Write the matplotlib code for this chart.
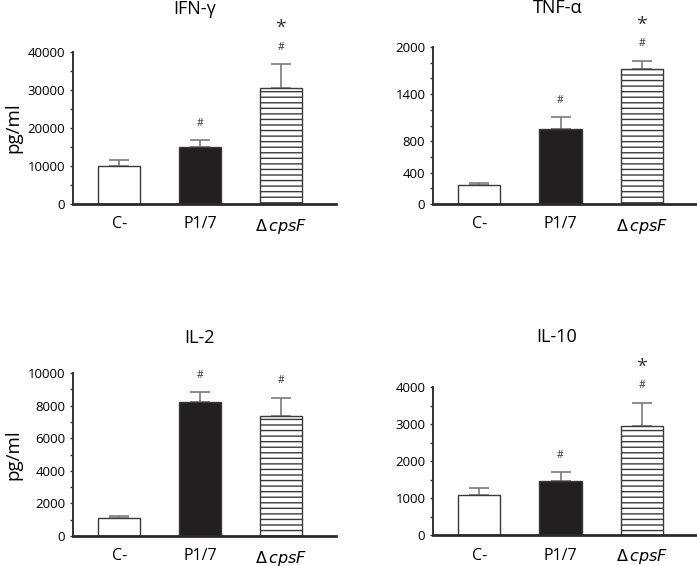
import matplotlib
matplotlib.use('Agg')
import matplotlib.pyplot as plt
from matplotlib.ticker import MultipleLocator, FixedLocator

plt.rcParams['font.family'] = ['Open Sans', 'DejaVu Sans']
plt.rcParams['hatch.linewidth'] = 1.0
plt.rcParams['hatch.color'] = '#222222'

groups = ['C-', 'P1/7', r'$\Delta\,$' + r'$\it{cpsF}$']

# values (mean, upper error)
ifn_mean = [10000, 15000, 30500]
ifn_err = [1600, 1800, 6300]
tnf_mean = [242, 955, 1720]
tnf_err = [26, 153, 102]
il2_mean = [1100, 8220, 7360]
il2_err = [130, 610, 1110]
il10_mean = [1080, 1460, 2950]
il10_err = [190, 240, 620]

# significance marks: (bar index, label)
ifn_marks = [(1, '#'), (2, '#*')]
tnf_marks = [(1, '#'), (2, '#*')]
il2_marks = [(1, '#'), (2, '#')]
il10_marks = [(1, '#'), (2, '#*')]

W, H = 697, 566
fig = plt.figure(figsize=(W / 100, H / 100), dpi=100)


def make_ax(left, right, bottom, top):
    return fig.add_axes([left / W, 1 - bottom / H, (right - left) / W, (bottom - top) / H])


def draw_panel(ax, title, means, errs, ymax, major, minor, marks, title_xy,
               ylabel=None, labels_at=None):
    x = [0, 1, 2]
    faces = ['white', '#231f20', 'white']
    hatches = [None, None, '---']
    for xi, m, fc, h in zip(x, means, faces, hatches):
        ax.bar(xi, m, width=0.52, color=fc, edgecolor='#3a3a3a', linewidth=1.0,
               hatch=h, zorder=2)
    ax.errorbar(x, means, yerr=[[0, 0, 0], errs], fmt='none', ecolor='#7a7a7a',
                elinewidth=1.2, capsize=7, capthick=1.2, zorder=1)
    ax.set_xlim(-0.57, 2.68)
    ax.set_ylim(0, ymax)
    ax.set_xticks(x)
    ax.set_xticklabels(groups, fontsize=11.5)
    ax.tick_params(axis='x', length=0, pad=9)
    ax.yaxis.set_minor_locator(MultipleLocator(minor))
    if labels_at is not None:
        ax.yaxis.set_major_locator(FixedLocator(labels_at))
    else:
        ax.yaxis.set_major_locator(MultipleLocator(major))
    ax.tick_params(axis='y', which='both', direction='out', length=2.5, width=1,
                   labelsize=9.5, pad=3, color='#333333')
    for s in ['top', 'right']:
        ax.spines[s].set_visible(False)
    ax.spines['left'].set_linewidth(1.4)
    ax.spines['left'].set_color('#333333')
    ax.spines['bottom'].set_linewidth(2.0)
    ax.spines['bottom'].set_color('#2a2a2a')
    fig.text(title_xy[0] / W, 1 - title_xy[1] / H, title, fontsize=13,
             ha='center', va='center')
    if ylabel:
        ax.set_ylabel(ylabel, fontsize=13.5, labelpad=4)
    for i, lab in marks:
        top = means[i] + errs[i]
        ax.annotate('#', xy=(i, top), xytext=(0, 17), textcoords='offset pixels',
                    ha='center', va='center', fontsize=7.5, color='#333333',
                    annotation_clip=False)
        if '*' in lab:
            ax.annotate('*', xy=(i, top), xytext=(0, 36), textcoords='offset pixels',
                        ha='center', va='center', fontsize=14, color='#333333',
                        annotation_clip=False)


ax1 = make_ax(73, 336, 204, 52)
draw_panel(ax1, 'IFN-γ', ifn_mean, ifn_err, 40000, 10000, 5000, ifn_marks,
           (195, 9), ylabel='pg/ml')

ax2 = make_ax(433, 697, 204, 47)
draw_panel(ax2, 'TNF-α', tnf_mean, tnf_err, 2000, 400, 200, tnf_marks,
           (558, 8), labels_at=[0, 400, 800, 1400, 2000])

ax3 = make_ax(73, 336, 536, 373)
draw_panel(ax3, 'IL-2', il2_mean, il2_err, 10000, 2000, 1000, il2_marks,
           (200, 338), ylabel='pg/ml')

ax4 = make_ax(433, 697, 535, 387)
draw_panel(ax4, 'IL-10', il10_mean, il10_err, 4000, 1000, 500, il10_marks,
           (557, 337))

fig.savefig('out.png', dpi=100, facecolor='white')
